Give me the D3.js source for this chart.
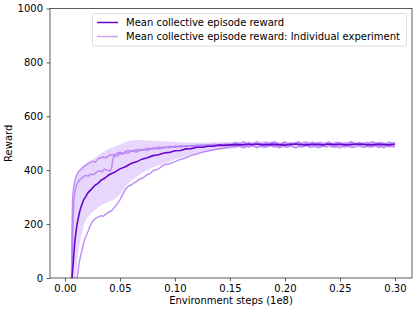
<!DOCTYPE html>
<html>
<head>
<meta charset="utf-8">
<script src="https://cdn.jsdelivr.net/npm/d3@7"></script>
<style>
  body { margin: 0; background: #fff; }
  svg text { font-family: "DejaVu Sans", sans-serif; fill: #000; }
</style>
</head>
<body>
<svg id="chart" width="416" height="310"></svg>
<script>
// plateau x positions for the mean and the band
var tailX = [0.155,0.16,0.165,0.17,0.175,0.18,0.185,0.19,0.195,0.2,0.205,0.21,0.215,0.22,0.225,0.23,0.235,0.24,0.245,0.25,0.255,0.26,0.265,0.27,0.275,0.28,0.285,0.29,0.295,0.3];
// denser plateau x positions for the individual runs
var tailX2 = [0.1525,0.155,0.1575,0.16,0.1625,0.165,0.1675,0.17,0.1725,0.175,0.1775,0.18,0.1825,0.185,0.1875,0.19,0.1925,0.195,0.1975,0.2,0.2025,0.205,0.2075,0.21,0.2125,0.215,0.2175,0.22,0.2225,0.225,0.2275,0.23,0.2325,0.235,0.2375,0.24,0.2425,0.245,0.2475,0.25,0.2525,0.255,0.2575,0.26,0.2625,0.265,0.2675,0.27,0.2725,0.275,0.2775,0.28,0.2825,0.285,0.2875,0.29,0.2925,0.295,0.2975,0.3];

var meanX = [0.0064,0.007,0.0075,0.008,0.0085,0.009,0.0097,0.0105,0.0115,0.0125,0.0136,0.015,0.017,0.019,0.021,0.024,0.027,0.03,0.033,0.036,0.04,0.045,0.05,0.055,0.06,0.065,0.07,0.075,0.08,0.085,0.09,0.095,0.1,0.105,0.11,0.115,0.12,0.125,0.13,0.135,0.14,0.145,0.15].concat(tailX);
var meanY = [0,30,55,85,110,135,160,185,210,230,250,268,290,303,317,329,343,351,363,370,383,392,405,413,425,431,441,446,454,457,464,466,472,473,479,480,485,485,489,489,493,492,494,
  495,494,496,495,497,494,495,496,495,493,496,497,495,494,496,495,494,497,495,496,494,495,497,496,494,495,496,495,494,496];

var bandX = [0.006,0.0065,0.007,0.008,0.009,0.0095,0.0105,0.011,0.0125,0.015,0.0175,0.02,0.025,0.03,0.035,0.04,0.045,0.05,0.055,0.06,0.065,0.07,0.075,0.08,0.09,0.1,0.11,0.12,0.13,0.14,0.15].concat(tailX);
var bandHi = [0,150,250,310,345,355,370,375,390,405,415,425,440,455,468,480,487,495,505,510,512,511,510,508,507,505,503,502,503,504,505,
  506,504,508,505,503,507,505,509,504,506,503,507,505,508,504,506,505,503,507,505,504,508,506,503,505,507,504,506,505,507];
var bandLo = [0,0,0,0,0,0,30,60,110,160,200,222,245,262,275,282,292,310,340,360,375,390,400,410,425,440,452,462,470,476,480,
  482,484,481,485,483,482,485,484,481,483,485,482,484,486,483,481,484,485,482,484,483,481,485,484,482,485,483,481,484,483];

var exp1X = [0.006,0.0063,0.0067,0.007,0.008,0.009,0.0105,0.0125,0.015,0.0175,0.02,0.0225,0.025,0.0275,0.03,0.0325,0.035,0.0375,0.04,0.0425,0.045,0.0475,0.05,0.0525,0.055,0.0575,0.06,0.065,0.07,0.075,0.08,0.085,0.09,0.095,0.1,0.105,0.11,0.115,0.12,0.125,0.13,0.135,0.14,0.145,0.15].concat(tailX2);
var exp1Y = [0,150,250,300,340,360,380,395,405,415,422,428,433,430,442,446,449,446,455,458,456,463,466,462,470,473,470,477,474,481,479,486,482,488,485,491,487,492,489,494,490,496,493,497,494,
  498,503,496,501,505,497,500,494,502,506,499,496,503,500,497,505,501,495,499,504,498,502,496,500,506,499,495,502,498,504,500,497,503,496,501,505,498,494,500,503,497,502,499,506,500,496,503,498,501,495,502,505,497,500,503,496,499,504,498,501];

var exp2X = [0.0065,0.007,0.0075,0.008,0.009,0.0105,0.0125,0.015,0.0185,0.021,0.0235,0.026,0.0285,0.031,0.0335,0.036,0.0385,0.041,0.0425,0.0435,0.045,0.0475,0.05,0.0525,0.055,0.0575,0.06,0.065,0.07,0.075,0.08,0.085,0.09,0.095,0.1,0.105,0.11,0.115,0.12,0.125,0.13,0.135,0.14,0.145,0.15].concat(tailX2);
var exp2Y = [0,150,230,280,320,345,360,370,381,378,386,383,392,398,395,404,400,397,410,440,455,452,462,459,466,463,471,468,477,474,482,479,486,483,489,486,491,488,493,490,495,492,496,493,497,
  493,498,501,495,490,497,502,494,499,496,491,500,497,493,502,498,494,490,499,503,495,492,498,501,494,497,503,496,491,499,495,502,497,493,500,496,490,498,502,495,499,493,497,501,494,498,492,500,496,503,494,491,498,501,495,499,493,497,500,496];

var exp3X = [0.011,0.013,0.0155,0.018,0.0215,0.023,0.025,0.0276,0.03,0.0325,0.035,0.0375,0.04,0.0425,0.045,0.0475,0.05,0.0525,0.055,0.0575,0.06,0.0625,0.065,0.0675,0.07,0.0725,0.075,0.0775,0.08,0.085,0.09,0.095,0.1,0.105,0.11,0.115,0.12,0.125,0.13,0.135,0.14,0.145,0.15].concat(tailX2);
var exp3Y = [0,60,104,145,178,195,210,220,226,231,229,238,245,250,262,275,290,310,330,340,345,352,358,366,370,376,384,388,398,405,420,424,432,440,446,455,460,467,471,476,480,482,486,
  489,485,491,487,483,490,486,492,488,484,491,487,485,490,493,486,489,484,491,488,485,492,487,483,490,486,489,493,485,488,491,484,487,490,486,492,488,485,489,483,490,487,491,486,484,489,492,487,485,490,486,488,493,485,489,484,491,487,490,486];

var xTicks = [0, 0.05, 0.1, 0.15, 0.2, 0.25, 0.3];
var yTicks = [0, 200, 400, 600, 800, 1000];
var legendLabels = ['Mean collective episode reward', 'Mean collective episode reward: Individual experiment'];

(function () {
  'use strict';

  var meanColor = '#6408cc', expColor = '#b57cf5', bandColor = '#9f55f5';

  var svg = d3.select('#chart');
  var mLeft = 50, mRight = 412, mTop = 8.5, mBottom = 278;

  var x = d3.scaleLinear().domain([-0.0136, 0.3155]).range([mLeft, mRight]);
  var y = d3.scaleLinear().domain([0, 1000]).range([mBottom, mTop]);

  svg.append('clipPath').attr('id', 'plotclip')
    .append('rect').attr('x', mLeft).attr('y', mTop).attr('width', mRight - mLeft).attr('height', mBottom - mTop);

  var plot = svg.append('g').attr('clip-path', 'url(#plotclip)');

  var band = bandX.map(function (d, i) { return {x: d, lo: bandLo[i], hi: bandHi[i]}; });
  plot.append('path')
    .datum(band)
    .attr('d', d3.area().x(function (d) { return x(d.x); }).y0(function (d) { return y(d.lo); }).y1(function (d) { return y(d.hi); }))
    .attr('fill', bandColor).attr('fill-opacity', 0.24);

  var line = d3.line().x(function (d) { return x(d[0]); }).y(function (d) { return y(d[1]); });
  [[exp1X, exp1Y], [exp2X, exp2Y], [exp3X, exp3Y]].forEach(function (s) {
    plot.append('path')
      .datum(d3.zip(s[0], s[1]))
      .attr('d', line)
      .attr('fill', 'none').attr('stroke', expColor).attr('stroke-opacity', 0.85).attr('stroke-width', 1.5);
  });

  plot.append('path')
    .datum(d3.zip(meanX, meanY))
    .attr('d', line)
    .attr('fill', 'none').attr('stroke', meanColor).attr('stroke-width', 1.6);

  // axes
  var xAxis = svg.append('g').attr('transform', 'translate(0,' + mBottom + ')')
    .call(d3.axisBottom(x).tickValues(xTicks).tickFormat(d3.format('.2f')).tickSize(3.5).tickPadding(3.5));
  var yAxis = svg.append('g').attr('transform', 'translate(' + mLeft + ',0)')
    .call(d3.axisLeft(y).tickValues(yTicks).tickFormat(d3.format('d')).tickSize(3.5).tickPadding(3.5));
  [xAxis, yAxis].forEach(function (a) {
    a.select('.domain').remove();
    a.selectAll('.tick line').attr('stroke', '#333').attr('stroke-width', 0.8);
    a.selectAll('.tick text').attr('font-size', 10).attr('font-family', 'DejaVu Sans');
  });

  svg.append('rect').attr('x', mLeft).attr('y', mTop).attr('width', mRight - mLeft).attr('height', mBottom - mTop)
    .attr('fill', 'none').attr('stroke', '#333').attr('stroke-width', 0.8);

  svg.append('text').attr('x', (mLeft + mRight) / 2).attr('y', 304).attr('text-anchor', 'middle')
    .attr('font-size', 10).text('Environment steps (1e8)');
  svg.append('text').attr('transform', 'translate(12,' + ((mTop + mBottom) / 2) + ') rotate(-90)')
    .attr('text-anchor', 'middle').attr('font-size', 10).text('Reward');

  // legend
  var lg = svg.append('g');
  lg.append('rect').attr('x', 92.5).attr('y', 13.5).attr('width', 314).attr('height', 32.5).attr('rx', 2)
    .attr('fill', '#fff').attr('fill-opacity', 0.8).attr('stroke', '#d6d6d6').attr('stroke-width', 0.8);
  legendLabels.forEach(function (t, i) {
    var yy = 22.5 + i * 14;
    lg.append('line').attr('x1', 97).attr('x2', 118).attr('y1', yy).attr('y2', yy)
      .attr('stroke', i === 0 ? meanColor : expColor).attr('stroke-opacity', i === 0 ? 1 : 0.7).attr('stroke-width', 1.5);
    lg.append('text').attr('x', 126).attr('y', yy + 3.5).attr('font-size', 10).text(t);
  });
})();
</script>
</body>
</html>
